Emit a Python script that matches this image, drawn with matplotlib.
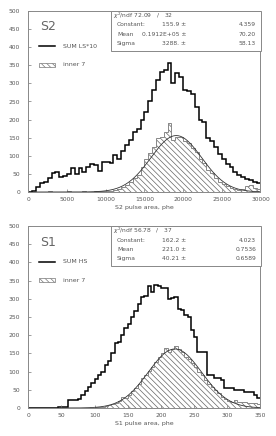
import numpy as np
import matplotlib
matplotlib.use("Agg")
from matplotlib import pyplot as plt
from matplotlib.patches import Rectangle

# S2 histogram, 60 bins of 500 phe
s2_edges = np.arange(0, 30001, 500)
s2_sum = [1, 2, 15, 26, 28, 38, 53, 56, 42, 44,
          50, 65, 50, 65, 56, 70, 76, 75, 59, 84,
          82, 81, 102, 91, 114, 130, 145, 165, 175, 198,
          222, 250, 282, 309, 332, 337, 355, 300, 328, 318,
          282, 280, 270, 236, 198, 194, 150, 140, 125, 105,
          90, 76, 68, 56, 48, 42, 37, 32, 28, 24]
s2_inner = [0, 0, 1, 0, 1, 2, 1, 0, 1, 1,
            2, 1, 0, 1, 2, 1, 1, 2, 2, 3,
            3, 4, 6, 8, 13, 19, 28, 40, 47, 70,
            90, 107, 125, 148, 151, 167, 191, 145, 153, 151,
            140, 134, 122, 110, 92, 80, 62, 52, 38, 28,
            22, 16, 12, 8, 6, 8, 16, 18, 10, 9]
s2_fit = {"chi2": "72.09", "ndf": "32",
          "Constant": ("155.9", "4.359"),
          "Mean": ("0.1912E+05", "70.20"),
          "Sigma": ("3288.", "58.13")}
s2_par = (155.9, 19120.0, 3288.0)

# S1 histogram, 70 bins of 5 phe
s1_edges = np.arange(0, 351, 5)
s1_sum = [0, 0, 0, 0, 0, 0, 0, 1, 1, 2,
          3, 4, 22, 22, 23, 24, 36, 47, 59, 68,
          79, 91, 100, 118, 128, 151, 178, 180, 201, 220,
          230, 249, 267, 286, 304, 309, 336, 318, 338, 336,
          331, 331, 300, 302, 304, 271, 270, 255, 250, 215,
          196, 155, 155, 155, 91, 91, 82, 82, 78, 54,
          54, 54, 50, 50, 50, 45, 45, 45, 36, 27]
s1_inner = [0, 0, 0, 0, 0, 0, 0, 0, 0, 0,
            0, 0, 0, 0, 0, 1, 0, 1, 1, 1,
            2, 3, 4, 6, 8, 10, 14, 18, 31, 28,
            36, 48, 56, 66, 82, 92, 102, 112, 126, 140,
            150, 164, 155, 162, 170, 162, 155, 141, 135, 125,
            112, 98, 90, 78, 65, 58, 50, 40, 30, 24,
            20, 17, 22, 17, 17, 17, 13, 13, 13, 12]
s1_fit = {"chi2": "56.78", "ndf": "37",
          "Constant": ("162.2", "4.023"),
          "Mean": ("221.0", "0.7536"),
          "Sigma": ("40.21", "0.6589")}
s1_par = (162.2, 221.0, 40.21)

W, H = 276, 436
GRAY = "#555555"
plt.rcParams["hatch.linewidth"] = 0.5
plt.rcParams["font.family"] = "DejaVu Sans"

fig = plt.figure(figsize=(W / 100, H / 100), dpi=100)


def fx(px):
    return px / W


def fy(py):
    return 1 - py / H


def panel(top, bottom, edges, sumv, inner, par, fit, xmax, xticks, xlabel,
          name, sumlabel):
    ax = fig.add_axes([fx(28.3), fy(bottom), fx(260.5) - fx(28.3),
                       fy(top) - fy(bottom)])
    ax.stairs(inner, edges, fill=True, hatch="\\\\\\\\\\\\", facecolor="none",
              edgecolor="#666666", linewidth=0)
    ax.stairs(inner, edges, color="#888888", linewidth=0.7)
    x = np.linspace(0, xmax, 400)
    c, m, s = par
    ax.plot(x, c * np.exp(-0.5 * ((x - m) / s) ** 2), color="#333333",
            linewidth=0.6)
    ax.stairs(sumv, edges, color="black", linewidth=1.1, baseline=None)
    ax.set_xlim(0, xmax)
    ax.set_ylim(0, 500)
    ax.set_yticks(range(0, 501, 50))
    ax.set_xticks(xticks)
    ax.tick_params(direction="in", length=2, width=0.5, colors="#777777",
                   labelcolor=GRAY, labelsize=4.3, pad=6)
    ax.tick_params(axis="x", pad=3.5)
    for sp in ax.spines.values():
        sp.set_color("#888888")
        sp.set_linewidth(0.7)
    ax.set_xlabel(xlabel, fontsize=4.5, color=GRAY, labelpad=2)

    # name and legend
    fig.text(fx(40), fy(top + 16), name, fontsize=9, color="#666666",
             va="center", ha="left")
    fig.add_artist(plt.Line2D([fx(39), fx(55)], [fy(top + 35.5)] * 2,
                              color="black", linewidth=1.1))
    fig.text(fx(63), fy(top + 35.5), sumlabel, fontsize=4.5, color=GRAY,
             va="center")
    fig.add_artist(Rectangle((fx(39), fy(top + 56)), fx(16), 4 / H,
                             facecolor="none", edgecolor="#777777",
                             hatch="\\\\\\\\\\\\", linewidth=0.5))
    fig.text(fx(63), fy(top + 54), "inner 7", fontsize=4.5, color=GRAY,
             va="center")

    # fit statistics box
    bx0, bx1, by1 = 111, 261, top + 40
    fig.add_artist(Rectangle((fx(bx0), fy(by1)), fx(bx1) - fx(bx0),
                             fy(top) - fy(by1), facecolor="white",
                             edgecolor="#888888", linewidth=0.7))
    kw = dict(fontsize=4.3, color=GRAY, va="center")
    fig.text(fx(113), fy(top + 4.5),
             r"$\chi^2$/ndf " + fit["chi2"] + "   /   " + fit["ndf"], **kw)
    for i, key in enumerate(["Constant", "Mean", "Sigma"]):
        yy = fy(top + 14 + 9.3 * i)
        val, err = fit[key]
        fig.text(fx(117), yy, key + (":" if key == "Constant" else ""), **kw)
        fig.text(fx(186), yy, val + " \u00b1", ha="right", **kw)
        fig.text(fx(256), yy, err, ha="right", **kw)
    return ax


panel(11, 192, s2_edges, s2_sum, s2_inner, s2_par, s2_fit, 30000,
      range(0, 30001, 5000), "S2 pulse area, phe", "S2", "SUM LS*10")
panel(226, 408, s1_edges, s1_sum, s1_inner, s1_par, s1_fit, 350,
      range(0, 351, 50), "S1 pulse area, phe", "S1", "SUM HS")

fig.savefig("out.png", dpi=100)
